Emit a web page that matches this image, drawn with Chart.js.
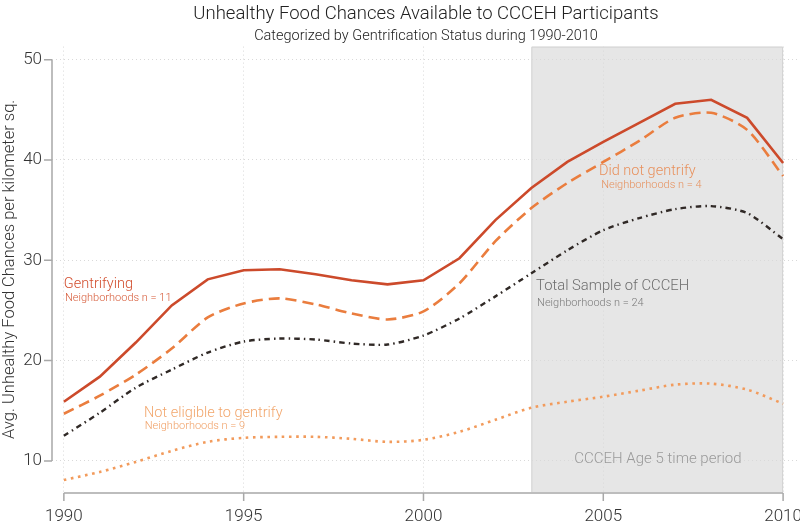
<!DOCTYPE html>
<html>
<head>
<meta charset="utf-8">
<script src="https://cdn.jsdelivr.net/npm/chart.js@4.4.0/dist/chart.umd.min.js"></script>
<style>
  html, body { margin: 0; padding: 0; background: #ffffff; }
  canvas { display: block; }
</style>
</head>
<body>
<canvas id="c" width="800" height="521"></canvas>
<script>
// ---- Data ----
const years = [1990,1991,1992,1993,1994,1995,1996,1997,1998,1999,2000,2001,2002,2003,2004,2005,2006,2007,2008,2009,2010];
const gentrifying = [15.9,18.4,21.8,25.5,28.1,29.0,29.1,28.6,28.0,27.6,28.0,30.2,34.0,37.2,39.8,41.8,43.7,45.6,46.0,44.2,39.7];
const didNotGentrify = [14.7,16.5,18.6,21.2,24.3,25.7,26.2,25.6,24.7,24.1,24.9,27.7,31.9,35.2,37.7,39.8,41.9,44.2,44.7,43.0,38.4];
const totalSample = [12.5,14.8,17.3,19.1,20.8,21.9,22.2,22.1,21.7,21.6,22.5,24.2,26.4,28.7,31.0,33.0,34.2,35.1,35.4,34.7,32.1];
const notEligible = [8.1,8.9,9.9,11.0,11.9,12.3,12.4,12.4,12.2,11.9,12.1,12.9,14.1,15.3,15.9,16.4,17.0,17.6,17.7,17.1,15.7];

const xTicks = [1990,1995,2000,2005,2010];
const yTicks = [10,20,30,40,50];
const shadeRange = [2003,2010];

const titleText = 'Unhealthy Food Chances Available to CCCEH Participants';
const subtitleText = 'Categorized by Gentrification Status during 1990-2010';
const yTitle = 'Avg. Unhealthy Food Chances per kilometer sq.';

const FONT = 'Roboto, "Liberation Sans", Arial, sans-serif';

function pts(arr){ return years.map((y,i)=>({x:y, y:arr[i]})); }

const annotations = [
  {text:'Gentrifying', x:1990, y:27.56, size:14.5, color:'#d24d2d', align:'left'},
  {text:'Neighborhoods n = 11', x:1990.03, y:26.25, size:11, color:'#d65a38', align:'left'},
  {text:'Not eligible to gentrify', x:1992.23, y:14.75, size:14.5, color:'#f2a66c', align:'left'},
  {text:'Neighborhoods n = 9', x:1992.25, y:13.5, size:11, color:'#f0a066', align:'left'},
  {text:'Did not gentrify', x:2004.88, y:38.86, size:14.5, color:'#e8905c', align:'left'},
  {text:'Neighborhoods n = 4', x:2004.94, y:37.46, size:11, color:'#e6915e', align:'left'},
  {text:'Total Sample of CCCEH', x:2003.13, y:27.36, size:14.8, color:'#6e6e6e', align:'left'},
  {text:'Neighborhoods n = 24', x:2003.16, y:25.73, size:11, color:'#7a7a7a', align:'left'},
  {text:'CCCEH Age 5 time period', x:2006.52, y:10.17, size:15, color:'#9a9a9a', align:'center'}
];

const framePlugin = {
  id: 'frame',
  beforeDraw(chart) {
    const {ctx, chartArea, scales:{x,y}} = chart;
    const x0 = x.getPixelForValue(shadeRange[0]);
    const x1 = x.getPixelForValue(shadeRange[1]);
    ctx.save();
    ctx.fillStyle = '#e6e6e6';
    ctx.fillRect(x0, chartArea.top, x1 - x0, chartArea.bottom - chartArea.top);
    ctx.strokeStyle = '#d2d2d2';
    ctx.lineWidth = 1;
    ctx.beginPath();
    ctx.moveTo(x0+0.5, chartArea.bottom);
    ctx.lineTo(x0+0.5, chartArea.top+0.5);
    ctx.lineTo(x1-0.5, chartArea.top+0.5);
    ctx.lineTo(x1-0.5, chartArea.bottom);
    ctx.stroke();
    ctx.restore();
  },
  afterDatasetsDraw(chart) {
    const {ctx, chartArea, scales:{x,y}} = chart;
    ctx.save();
    // range-frame axes
    ctx.strokeStyle = '#a8a8a8';
    ctx.lineWidth = 1.5;
    const ax = chartArea.left;
    ctx.beginPath();
    ctx.moveTo(ax, y.getPixelForValue(yTicks[0]));
    ctx.lineTo(ax, y.getPixelForValue(yTicks[yTicks.length-1]));
    yTicks.forEach(v => {
      const py = y.getPixelForValue(v);
      ctx.moveTo(ax - 8, py);
      ctx.lineTo(ax, py);
    });
    const ay = chartArea.bottom + 1;
    ctx.moveTo(x.getPixelForValue(xTicks[0]), ay);
    ctx.lineTo(x.getPixelForValue(xTicks[xTicks.length-1]), ay);
    xTicks.forEach(v => {
      const px = x.getPixelForValue(v);
      ctx.moveTo(px, ay);
      ctx.lineTo(px, ay + 8);
    });
    ctx.stroke();
    // annotations
    ctx.textBaseline = 'middle';
    annotations.forEach(a => {
      ctx.font = '300 ' + a.size + 'px ' + FONT;
      ctx.fillStyle = a.color;
      ctx.textAlign = a.align;
      ctx.fillText(a.text, x.getPixelForValue(a.x), y.getPixelForValue(a.y));
    });
    ctx.restore();
  }
};

new Chart(document.getElementById('c'), {
  type: 'line',
  data: {
    datasets: [
      {label:'Gentrifying', data: pts(gentrifying), borderColor:'#cc4a2b', borderWidth:2.6, tension:0, pointRadius:0},
      {label:'Did not gentrify', data: pts(didNotGentrify), borderColor:'#ea7d3e', borderWidth:2.6, borderDash:[11,6], tension:0.25, pointRadius:0},
      {label:'Total Sample of CCCEH', data: pts(totalSample), borderColor:'#302926', borderWidth:2.4, borderDash:[5.5,4,1.5,4], tension:0.25, pointRadius:0},
      {label:'Not eligible to gentrify', data: pts(notEligible), borderColor:'#f29b5c', borderWidth:2.6, borderDash:[2.6,4.6], borderCapStyle:'butt', tension:0.3, pointRadius:0}
    ]
  },
  options: {
    responsive: false,
    devicePixelRatio: 1,
    animation: false,
    layout: { padding: {top: 0, left: 0, right: 0, bottom: 0} },
    plugins: {
      legend: { display: false },
      tooltip: { enabled: false },
      title: {
        display: true, text: titleText, fullSize: false,
        color: '#222222',
        font: {family: FONT, size: 18.5, weight: '300', lineHeight: 1.2},
        padding: {top: 3, bottom: 2}
      },
      subtitle: {
        display: true, text: subtitleText, fullSize: false,
        color: '#222222',
        font: {family: FONT, size: 14.5, weight: '300', lineHeight: 1.2},
        padding: {top: 0, bottom: 2}
      }
    },
    scales: {
      x: {
        type: 'linear',
        min: 1989.67,
        max: 2010.47,
        afterBuildTicks: s => { s.ticks = xTicks.map(v => ({value: v})); },
        afterFit: s => { s.height = 29; s.paddingRight = 0; s.paddingLeft = 0; },
        ticks: { color:'#333333', font:{family: FONT, size: 17, weight:'300'}, padding: 15, maxRotation: 0, callback: v => String(v) },
        grid: { color:'#d9d9d9', lineWidth: 1, drawTicks: false },
        border: { display: false, dash: [1,3] }
      },
      y: {
        min: 6.9,
        max: 51.3,
        afterBuildTicks: s => { s.ticks = yTicks.map(v => ({value: v})); },
        afterFit: s => { s.width = 52; s.paddingTop = 0; s.paddingBottom = 0; },
        ticks: { color:'#333333', font:{family: FONT, size: 17, weight:'300'}, padding: 10 },
        grid: { color:'#d9d9d9', lineWidth: 1, drawTicks: false },
        border: { display: false, dash: [1,3] },
        title: { display: true, text: yTitle, color:'#333333', font:{family: FONT, size: 16.5, weight:'300'}, padding: {top: 0, bottom: 0} }
      }
    }
  },
  plugins: [framePlugin]
});
</script>
</body>
</html>
